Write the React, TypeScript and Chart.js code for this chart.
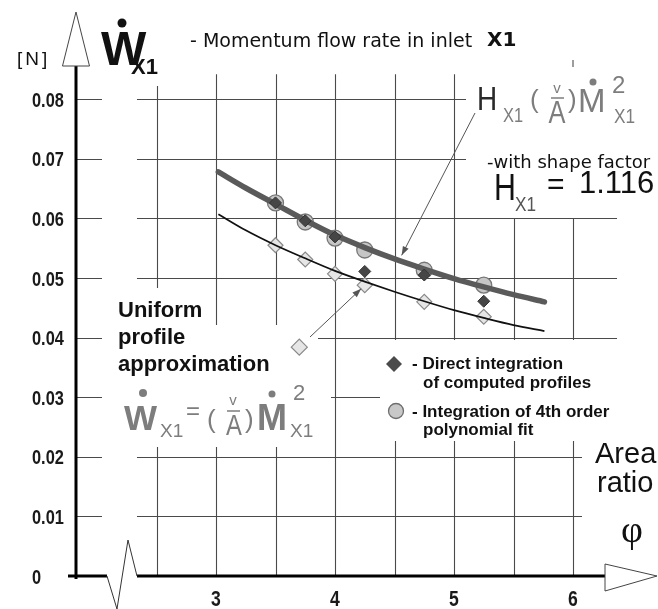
import { useEffect, useRef } from 'react';
import { Chart, registerables } from 'chart.js';

Chart.register(...registerables);

// Area ratio φ at which the momentum flow rate was evaluated
const PHI = [3.5, 3.75, 4.0, 4.25, 4.75, 5.25];
// Momentum flow rate [N], direct integration of computed profiles
const DIRECT_INTEGRATION = [0.0626, 0.0596, 0.0569, 0.0511, 0.0505, 0.0461];
// Momentum flow rate [N], integration of 4th order polynomial fit
const POLYNOMIAL_FIT = [0.0626, 0.0594, 0.0567, 0.0547, 0.0513, 0.0488];
// Momentum flow rate [N], uniform profile approximation
const UNIFORM_PROFILE = [0.0555, 0.0531, 0.0507, 0.0488, 0.046, 0.0435];

// Fitted curves
const CURVE_PHI = [3.02, 3.25, 3.5, 3.75, 4.0, 4.25, 4.5, 4.75, 5.0, 5.25, 5.5, 5.76];
const SHAPE_FACTOR_CURVE = [0.0678, 0.0651, 0.0624, 0.0597, 0.0572, 0.0551, 0.0532, 0.0515, 0.0499, 0.0485, 0.0472, 0.046];
const UNIFORM_CURVE = [0.0607, 0.058, 0.0555, 0.0533, 0.0512, 0.0494, 0.0477, 0.0461, 0.0446, 0.0433, 0.0421, 0.0411];

// Key marker beside the uniform-profile label
const UNIFORM_KEY_PHI = [3.7];
const UNIFORM_KEY_W = [0.0384];

// Axes
const Y_TICKS = [0, 0.01, 0.02, 0.03, 0.04, 0.05, 0.06, 0.07, 0.08];
const Y_TICK_LABELS = ['0', '0.01', '0.02', '0.03', '0.04', '0.05', '0.06', '0.07', '0.08'];
const X_TICKS = [3, 4, 5, 6];
const X_TICK_LABELS = ['3', '4', '5', '6'];
const X_GRID = [2.5, 3, 3.5, 4, 4.5, 5, 5.5, 6];

const AXIS_PHI = 1.8235; // where the broken φ axis meets the W axis
const GRID_LEFT_PHI = 2.336;
const GRID_RIGHT_PHI = 6.37;
const GRID_TOP_W = 0.0842;

const SANS = '"Liberation Sans", Arial, sans-serif';
const DEJAVU = '"DejaVu Sans", sans-serif';
const SERIF = '"Liberation Serif", "DejaVu Serif", serif';
const NARROW_SCALE = 0.82;

const INK = '#111';
const FORMULA_GREY = '#7d7d7d';

function pts(xs: number[], ys: number[]) {
  return xs.map((x, i) => ({ x, y: ys[i] }));
}

function text(
  ctx: CanvasRenderingContext2D,
  s: string,
  x: number,
  y: number,
  font: string,
  color: string,
  align: CanvasTextAlign = 'left',
  sx = 1,
) {
  ctx.save();
  ctx.font = font;
  ctx.fillStyle = color;
  ctx.textAlign = align;
  ctx.textBaseline = 'alphabetic';
  ctx.translate(x, y);
  ctx.scale(sx, 1);
  ctx.fillText(s, 0, 0);
  ctx.restore();
}

// condensed Liberation Sans
function narrow(
  ctx: CanvasRenderingContext2D,
  s: string,
  x: number,
  y: number,
  size: number,
  color: string,
  align: CanvasTextAlign = 'left',
  weight = 'normal',
  sx = NARROW_SCALE,
) {
  text(ctx, s, x, y, `${weight} ${size}px ${SANS}`, color, align, sx);
}

function dot(ctx: CanvasRenderingContext2D, x: number, y: number, r: number, color: string) {
  ctx.beginPath();
  ctx.arc(x, y, r, 0, Math.PI * 2);
  ctx.fillStyle = color;
  ctx.fill();
}

function arrow(ctx: CanvasRenderingContext2D, x0: number, y0: number, x1: number, y1: number) {
  ctx.save();
  ctx.strokeStyle = '#555';
  ctx.fillStyle = '#555';
  ctx.lineWidth = 1;
  ctx.beginPath();
  ctx.moveTo(x0, y0);
  ctx.lineTo(x1, y1);
  ctx.stroke();
  const a = Math.atan2(y1 - y0, x1 - x0);
  const L = 9;
  const w = 3.2;
  ctx.beginPath();
  ctx.moveTo(x1, y1);
  ctx.lineTo(x1 - L * Math.cos(a) + w * Math.sin(a), y1 - L * Math.sin(a) - w * Math.cos(a));
  ctx.lineTo(x1 - L * Math.cos(a) - w * Math.sin(a), y1 - L * Math.sin(a) + w * Math.cos(a));
  ctx.closePath();
  ctx.fill();
  ctx.restore();
}

const framePlugin = {
  id: 'frame',
  beforeDatasetsDraw(chart: any) {
    const ctx: CanvasRenderingContext2D = chart.ctx;
    const xs = chart.scales.x;
    const ys = chart.scales.y;
    const X = (v: number) => xs.getPixelForValue(v);
    const Y = (v: number) => ys.getPixelForValue(v);
    const axisX = X(AXIS_PHI);
    const axisY = Y(0);

    ctx.save();
    // grid
    ctx.strokeStyle = '#4a4a4a';
    ctx.lineWidth = 1.1;
    X_GRID.forEach((g) => {
      const top = g >= 5.5 ? Y(0.06) : g === 2.5 ? Y(0.0822) : Y(GRID_TOP_W);
      ctx.beginPath();
      ctx.moveTo(Math.round(X(g)) + 0.5, top);
      ctx.lineTo(Math.round(X(g)) + 0.5, axisY);
      ctx.stroke();
    });
    Y_TICKS.forEach((t) => {
      if (t === 0) return;
      const py = Math.round(Y(t)) + 0.5;
      ctx.beginPath();
      ctx.moveTo(axisX, py);
      ctx.lineTo(axisX + 26, py);
      ctx.moveTo(X(GRID_LEFT_PHI), py);
      ctx.lineTo(X(GRID_RIGHT_PHI), py);
      ctx.stroke();
    });

    // blank panels behind the annotation texts
    ctx.fillStyle = '#fff';
    ctx.fillRect(466, 72, 192, 138);
    ctx.fillRect(110, 288, 95, 159);
    ctx.fillRect(110, 325, 208, 122);
    ctx.fillRect(318, 380, 13, 67);
    ctx.fillRect(380, 340, 278, 101);
    ctx.fillRect(582, 440, 76, 120);

    // W axis with hollow arrow
    ctx.strokeStyle = '#000';
    ctx.lineWidth = 3;
    ctx.beginPath();
    ctx.moveTo(axisX, 66);
    ctx.lineTo(axisX, axisY + 3);
    ctx.stroke();
    ctx.lineWidth = 1;
    ctx.strokeStyle = '#444';
    ctx.fillStyle = '#fff';
    ctx.beginPath();
    ctx.moveTo(axisX, 12);
    ctx.lineTo(axisX + 13.5, 66);
    ctx.lineTo(axisX - 13.5, 66);
    ctx.closePath();
    ctx.fill();
    ctx.stroke();

    // φ axis with break and hollow arrow
    ctx.strokeStyle = '#000';
    ctx.lineWidth = 3;
    ctx.beginPath();
    ctx.moveTo(axisX - 8, axisY);
    ctx.lineTo(axisX + 31, axisY);
    ctx.moveTo(X(GRID_LEFT_PHI), axisY);
    ctx.lineTo(605, axisY);
    ctx.stroke();
    ctx.lineWidth = 1;
    ctx.strokeStyle = '#333';
    ctx.beginPath();
    ctx.moveTo(axisX + 31, axisY);
    ctx.lineTo(axisX + 41, axisY + 33);
    ctx.lineTo(axisX + 52, axisY - 36);
    ctx.lineTo(X(GRID_LEFT_PHI), axisY);
    ctx.stroke();
    ctx.strokeStyle = '#444';
    ctx.fillStyle = '#fff';
    ctx.beginPath();
    ctx.moveTo(605, axisY - 12);
    ctx.lineTo(657, axisY);
    ctx.lineTo(605, axisY + 15);
    ctx.closePath();
    ctx.fill();
    ctx.stroke();

    // tick labels
    Y_TICKS.forEach((t, i) => {
      narrow(ctx, Y_TICK_LABELS[i], 32, Y(t) + 7.5, 21, '#1a1a1a', 'left', 'bold', 0.78);
    });
    X_TICKS.forEach((t, i) => {
      narrow(ctx, X_TICK_LABELS[i], X(t), 606, 22, '#1a1a1a', 'center', 'bold', 0.8);
    });

    // axis titles
    ctx.save();
    (ctx as any).letterSpacing = '3px';
    text(ctx, '[N]', 17, 65, `19px ${SANS}`, INK);
    ctx.restore();
    text(ctx, 'W', 101, 65, `bold 48px ${SANS}`, INK);
    dot(ctx, 122, 23, 4.5, INK);
    text(ctx, 'X1', 131, 74, `bold 22px ${SANS}`, INK);
    text(ctx, '- Momentum flow rate in inlet', 190, 47, `19px ${DEJAVU}`, INK);
    text(ctx, 'X1', 487, 46, `bold 20px ${DEJAVU}`, INK);

    text(ctx, 'Area', 595, 463, `29px ${SANS}`, INK);
    text(ctx, 'ratio', 597, 492, `29px ${SANS}`, INK);
    text(ctx, 'φ', 632, 542, `38px ${SERIF}`, INK, 'center');

    // formula with shape factor
    narrow(ctx, 'H', 477, 110, 34, '#2a2a2a');
    narrow(ctx, 'X1', 503, 122, 20, FORMULA_GREY);
    text(ctx, '(', 530, 108, `26px ${SANS}`, FORMULA_GREY);
    text(ctx, 'v', 557, 93, `15px ${SANS}`, FORMULA_GREY, 'center');
    ctx.strokeStyle = FORMULA_GREY;
    ctx.lineWidth = 1.5;
    ctx.beginPath();
    ctx.moveTo(551, 98);
    ctx.lineTo(564, 98);
    ctx.moveTo(573, 60);
    ctx.lineTo(573, 67);
    ctx.stroke();
    narrow(ctx, 'A', 557, 123, 31, FORMULA_GREY, 'center');
    text(ctx, ')', 568, 108, `26px ${SANS}`, FORMULA_GREY);
    text(ctx, 'M', 578, 112, `33px ${SANS}`, FORMULA_GREY);
    dot(ctx, 593, 82, 3.5, FORMULA_GREY);
    text(ctx, '2', 612, 93, `24px ${SANS}`, FORMULA_GREY);
    narrow(ctx, 'X1', 614, 123, 21, FORMULA_GREY);

    text(ctx, '-with shape factor', 487, 168, `18px ${DEJAVU}`, INK);
    narrow(ctx, 'H', 494, 200, 37, INK);
    narrow(ctx, 'X1', 515, 211, 21, '#555');
    text(ctx, '=', 547, 194, `30px ${SANS}`, INK);
    text(ctx, '1.116', 579, 193, `31px ${SANS}`, INK);

    // uniform profile label and formula
    text(ctx, 'Uniform', 118, 317, `bold 22px ${SANS}`, INK);
    text(ctx, 'profile', 118, 344, `bold 22px ${SANS}`, INK);
    text(ctx, 'approximation', 118, 371, `bold 22px ${SANS}`, INK);

    text(ctx, 'W', 124, 430, `bold 35px ${SANS}`, FORMULA_GREY);
    dot(ctx, 143, 393, 4, FORMULA_GREY);
    text(ctx, 'X1', 160, 437, `19px ${SANS}`, FORMULA_GREY);
    text(ctx, '=', 186, 419, `24px ${SANS}`, FORMULA_GREY);
    text(ctx, '(', 207, 428, `26px ${SANS}`, FORMULA_GREY);
    text(ctx, 'v', 233, 405, `15px ${SANS}`, FORMULA_GREY, 'center');
    ctx.beginPath();
    ctx.moveTo(227, 411);
    ctx.lineTo(240, 411);
    ctx.stroke();
    narrow(ctx, 'A', 234, 435, 29, FORMULA_GREY, 'center');
    text(ctx, ')', 245, 428, `26px ${SANS}`, FORMULA_GREY);
    text(ctx, 'M', 257, 430, `bold 36px ${SANS}`, FORMULA_GREY);
    dot(ctx, 272, 394, 3.5, FORMULA_GREY);
    text(ctx, '2', 293, 400, `22px ${SANS}`, FORMULA_GREY);
    text(ctx, 'X1', 290, 437, `19px ${SANS}`, FORMULA_GREY);

    // legend
    ctx.fillStyle = '#4a4a4a';
    ctx.beginPath();
    ctx.moveTo(394, 356);
    ctx.lineTo(402, 364);
    ctx.lineTo(394, 372);
    ctx.lineTo(386, 364);
    ctx.closePath();
    ctx.fill();
    text(ctx, '- Direct integration', 412, 369, `bold 17px ${SANS}`, INK);
    text(ctx, 'of computed profiles', 423, 388, `bold 17px ${SANS}`, INK);
    ctx.beginPath();
    ctx.arc(396, 411, 7.5, 0, Math.PI * 2);
    ctx.fillStyle = '#c8c8c8';
    ctx.fill();
    ctx.strokeStyle = '#6e6e6e';
    ctx.lineWidth = 1.3;
    ctx.stroke();
    text(ctx, '- Integration of 4th order', 412, 417, `bold 17px ${SANS}`, INK);
    text(ctx, 'polynomial fit', 423, 435, `bold 17px ${SANS}`, INK);

    ctx.restore();
  },
  afterDatasetsDraw(chart: any) {
    const ctx: CanvasRenderingContext2D = chart.ctx;
    const xs = chart.scales.x;
    const ys = chart.scales.y;
    // leaders from the formulas to their curves
    arrow(ctx, 475, 113, xs.getPixelForValue(4.56), ys.getPixelForValue(0.0538));
    arrow(ctx, 310, 337, xs.getPixelForValue(4.22), ys.getPixelForValue(0.0482));
  },
};

export default function App() {
  const ref = useRef<HTMLCanvasElement | null>(null);

  useEffect(() => {
    if (!ref.current) return;
    const chart = new Chart(ref.current, {
      type: 'scatter',
      data: {
        datasets: [
          {
            label: 'Direct integration of computed profiles',
            data: pts(PHI, DIRECT_INTEGRATION),
            pointStyle: 'rectRot',
            pointRadius: 6,
            backgroundColor: '#464646',
            borderColor: '#333',
            borderWidth: 1,
            order: 1,
          },
          {
            label: 'Shape factor curve',
            data: pts(CURVE_PHI, SHAPE_FACTOR_CURVE),
            showLine: true,
            pointRadius: 0,
            borderColor: '#5a5a5a',
            borderWidth: 5.5,
            borderCapStyle: 'round',
            tension: 0.4,
            cubicInterpolationMode: 'monotone',
            order: 2,
          },
          {
            label: 'Integration of 4th order polynomial fit',
            data: pts(PHI, POLYNOMIAL_FIT),
            pointStyle: 'circle',
            pointRadius: 8,
            backgroundColor: '#c6c6c6',
            borderColor: '#777',
            borderWidth: 1.3,
            order: 3,
          },
          {
            label: 'Uniform profile curve',
            data: pts(CURVE_PHI, UNIFORM_CURVE),
            showLine: true,
            pointRadius: 0,
            borderColor: '#111',
            borderWidth: 1.7,
            tension: 0.4,
            cubicInterpolationMode: 'monotone',
            order: 4,
          },
          {
            label: 'Uniform profile approximation',
            data: pts(PHI, UNIFORM_PROFILE),
            pointStyle: 'rectRot',
            pointRadius: 7.5,
            backgroundColor: '#e6e6e6',
            borderColor: '#8a8a8a',
            borderWidth: 1.2,
            order: 5,
          },
          {
            label: 'Uniform profile key',
            data: pts(UNIFORM_KEY_PHI, UNIFORM_KEY_W),
            pointStyle: 'rectRot',
            pointRadius: 8,
            backgroundColor: '#e6e6e6',
            borderColor: '#8a8a8a',
            borderWidth: 1.2,
            order: 5,
          },
        ],
      },
      options: {
        responsive: false,
        animation: false,
        events: [],
        layout: { padding: { left: 97, right: 25.5, top: 39.6, bottom: 33 } },
        scales: {
          x: { type: 'linear', min: 2, max: 6.5, display: false },
          y: { type: 'linear', min: 0, max: 0.09, display: false },
        },
        plugins: { legend: { display: false }, tooltip: { enabled: false } },
      },
      plugins: [framePlugin],
    });
    return () => chart.destroy();
  }, []);

  return (
    <div style={{ position: 'fixed', left: 0, top: 0, width: 658, height: 609, background: '#fff' }}>
      <canvas ref={ref} width={658} height={609} style={{ display: 'block' }} />
    </div>
  );
}
